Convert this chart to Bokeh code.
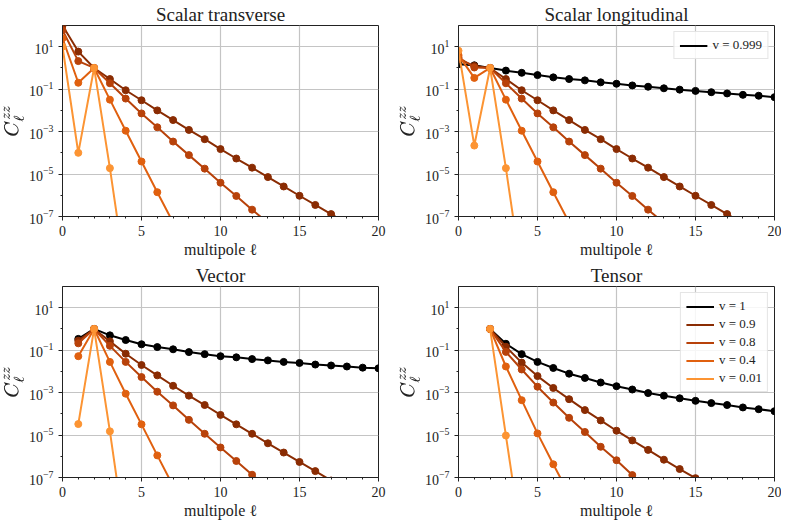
from bokeh.plotting import figure
from bokeh.layouts import gridplot
from bokeh.models import (FixedTicker, SingleIntervalTicker, Range1d, Legend,
                          LegendItem)
from bokeh.embed import file_html
from bokeh.resources import INLINE

# ---------------- data ----------------
titles = ["Scalar transverse", "Scalar longitudinal", "Vector", "Tensor"]
v_labels = ["v = 1", "v = 0.9", "v = 0.8", "v = 0.4", "v = 0.01"]
colors = ["#000000", "#8a2c03", "#b8420a", "#e0600f", "#fc9433"]
y_ticks = [1e-7, 1e-5, 1e-3, 1e-1, 1e1]
y_minor = [1e-6, 1e-4, 1e-2, 1e0]

# Scalar transverse (ell = 0..)
st_v09 = [100, 5.9, 1.0, 0.30, 0.089, 0.030, 0.010, 3.5e-3, 1.2e-3, 4.4e-4, 1.5e-4,
          5.4e-5, 2.0e-5, 7.2e-6, 2.6e-6, 9.5e-7, 3.5e-7, 1.3e-7, 4.7e-8, 1.7e-8, 6.3e-9]
st_v08 = [60, 2.1, 1.0, 0.19, 0.036, 7.2e-3, 1.6e-3, 3.4e-4, 7.8e-5, 1.8e-5, 3.9e-6,
          9.3e-7, 2.1e-7, 5.0e-8, 1.1e-8]
st_v04 = [25, 0.20, 1.0, 0.032, 1.1e-3, 3.9e-5, 1.4e-6, 5.2e-8, 2.0e-9]
st_v001 = [10, 1.0e-4, 1.0, 1.9e-5, 1.6e-10]

# Scalar longitudinal (ell = 0..)
sl_v0999 = [1.5, 1.33, 1.0, 0.75, 0.59, 0.46, 0.36, 0.30, 0.26, 0.21, 0.18,
            0.15, 0.13, 0.11, 0.095, 0.083, 0.072, 0.063, 0.054, 0.049, 0.042]
sl_v09 = [2.6, 1.25, 1.0, 0.30, 0.089, 0.030, 0.010, 3.5e-3, 1.2e-3, 4.4e-4, 1.5e-4,
          5.4e-5, 2.0e-5, 7.2e-6, 2.6e-6, 9.5e-7, 3.5e-7, 1.3e-7, 4.7e-8, 1.7e-8, 6.3e-9]
sl_v08 = [3.2, 1.05, 1.0, 0.19, 0.036, 7.2e-3, 1.6e-3, 3.4e-4, 7.8e-5, 1.8e-5, 3.9e-6,
          9.3e-7, 2.1e-7, 5.0e-8, 1.1e-8]
sl_v04 = [4.0, 0.34, 1.0, 0.032, 1.1e-3, 3.9e-5, 1.4e-6, 5.2e-8, 2.0e-9]
sl_v001 = [6.5, 2.2e-4, 1.0, 1.9e-5, 1.6e-10]

# Vector (ell = 1..)
ve_v1 = [0.34, 1.0, 0.50, 0.30, 0.19, 0.14, 0.11, 0.081, 0.065, 0.052, 0.046,
         0.038, 0.033, 0.028, 0.025, 0.021, 0.019, 0.017, 0.015, 0.014]
ve_v09 = [0.28, 1.0, 0.26, 0.068, 0.020, 6.5e-3, 2.1e-3, 7.2e-4, 2.6e-4, 8.9e-5,
          3.2e-5, 1.15e-5, 4.1e-6, 1.5e-6, 5.4e-7, 2.0e-7, 7.2e-8, 2.6e-8]
ve_v08 = [0.21, 1.0, 0.16, 0.028, 5.4e-3, 1.1e-3, 2.5e-4, 5.2e-5, 1.15e-5, 2.6e-6,
          6.0e-7, 1.35e-7, 3.2e-8]
ve_v04 = [0.052, 1.0, 0.028, 8.9e-4, 3.2e-5, 1.1e-6, 4.0e-8]
ve_v001 = [3.3e-5, 1.0, 1.5e-5, 1e-10]

# Tensor (ell = 2..)
te_v1 = [1.0, 0.20, 0.065, 0.028, 0.0145, 7.8e-3, 4.9e-3, 3.0e-3, 2.0e-3, 1.4e-3,
         9.5e-4, 7.2e-4, 5.4e-4, 4.1e-4, 3.2e-4, 2.6e-4, 2.0e-4, 1.65e-4, 1.33e-4]
te_v09 = [1.0, 0.145, 0.026, 6.0e-3, 1.66e-3, 4.9e-4, 1.5e-4, 4.9e-5, 1.6e-5, 5.6e-6,
          2.0e-6, 6.9e-7, 2.5e-7, 9.3e-8, 3.5e-8]
te_v08 = [1.0, 0.083, 0.0123, 1.9e-3, 3.4e-4, 6.5e-5, 1.4e-5, 2.8e-6, 6.5e-7, 1.3e-7, 3.2e-8]
te_v04 = [1.0, 0.017, 4.4e-4, 1.2e-5, 4.2e-7, 1.6e-8]
te_v001 = [1.0, 9.5e-6, 1e-10]

panels = [
    (0, [None, st_v09, st_v08, st_v04, st_v001]),
    (0, [sl_v0999, sl_v09, sl_v08, sl_v04, sl_v001]),
    (1, [ve_v1, ve_v09, ve_v08, ve_v04, ve_v001]),
    (2, [te_v1, te_v09, te_v08, te_v04, te_v001]),
]

FONT = "Liberation Serif"
# (left, right, top, bottom)
borders = [(58, 18, 0, 0), (58, 7, 0, 0), (58, 18, 26, 0), (58, 7, 26, 0)]

figs = []
for i, ((ell0, series), (bl, br, bt, bb)) in enumerate(zip(panels, borders)):
    p = figure(frame_width=316, frame_height=191, x_range=Range1d(0, 20),
               y_range=Range1d(1e-7, 1e2), y_axis_type="log",
               output_backend="svg", toolbar_location=None,
               min_border_left=bl, min_border_right=br,
               min_border_top=bt, min_border_bottom=bb)
    p.title.text = titles[i]
    p.title.text_font = FONT
    p.title.text_font_size = "19px"
    p.title.text_font_style = "normal"
    p.title.align = "center"
    p.title.text_color = "#222222"
    p.title.standoff = 2

    p.xaxis.ticker = SingleIntervalTicker(interval=5, num_minor_ticks=5)
    p.yaxis.ticker = FixedTicker(ticks=y_ticks, minor_ticks=y_minor)
    for ax in (p.xaxis[0], p.yaxis[0]):
        ax.major_label_text_font = FONT
        ax.major_label_text_font_size = "14px"
        ax.major_label_text_color = "#222222"
        ax.axis_label_text_font = FONT
        ax.axis_label_text_font_size = "16px"
        ax.axis_label_text_font_style = "normal"
        ax.axis_label_text_color = "#222222"
        ax.major_tick_in = 0
        ax.major_tick_out = 4
        ax.minor_tick_in = 0
        ax.minor_tick_out = 2
        ax.axis_line_color = "#222222"
        ax.major_tick_line_color = "#222222"
        ax.minor_tick_line_color = "#222222"
        ax.axis_label_standoff = 2
    p.yaxis.axis_label_text_font_size = "18px"
    p.xaxis.axis_label = "multipole ℓ"
    p.yaxis.axis_label = r"$$C_\ell^{zz}$$"
    p.outline_line_color = "#222222"
    p.outline_line_alpha = 1
    p.xgrid.grid_line_color = "#c4c4c4"
    p.ygrid.grid_line_color = "#c4c4c4"
    p.xgrid.grid_line_width = 1.2
    p.ygrid.grid_line_width = 1.2

    items = []
    for k, ys in enumerate(series):
        if ys is None:
            continue
        xs = list(range(ell0, ell0 + len(ys)))
        lr = p.line(xs, ys, line_color=colors[k], line_width=2)
        p.scatter(xs, ys, size=7, fill_color=colors[k], line_color=colors[k])
        label = v_labels[k]
        if i == 1 and k == 0:
            label = "v = 0.999"
        items.append(LegendItem(label=label, renderers=[lr]))

    if i in (1, 3):
        its = items[:1] if i == 1 else items
        leg = Legend(items=its, location="top_right")
        leg.label_text_font = FONT
        leg.label_text_font_size = "13px"
        leg.label_text_color = "#222222"
        leg.label_height = 11
        leg.glyph_height = 11
        leg.glyph_width = 28
        leg.spacing = 2
        leg.padding = 5
        leg.margin = 6
        leg.border_line_color = "#cccccc"
        leg.background_fill_alpha = 0.85
        p.add_layout(leg)
    figs.append(p)

grid = gridplot([[figs[0], figs[1]], [figs[2], figs[3]]], toolbar_location=None)

open("out.html", "w").write(file_html(grid, INLINE))
